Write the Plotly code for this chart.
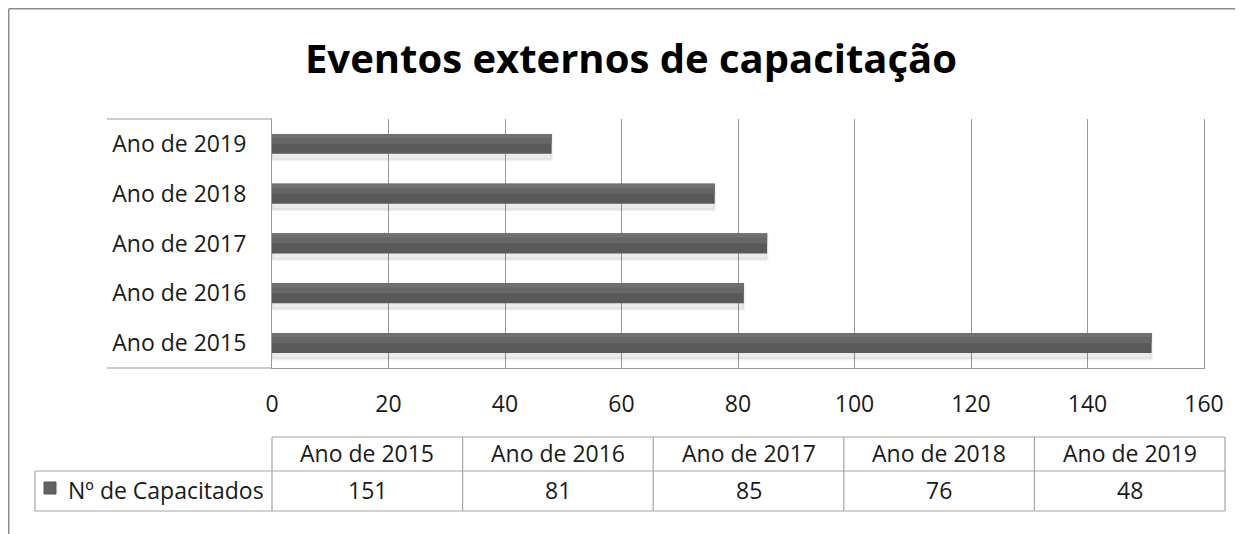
import plotly.graph_objects as go

categories = ["Ano de 2015", "Ano de 2016", "Ano de 2017", "Ano de 2018", "Ano de 2019"]
values = [151, 81, 85, 76, 48]
x_ticks = [0, 20, 40, 60, 80, 100, 120, 140, 160]
series_name = "Nº de Capacitados"
title_text = "Eventos externos de capacitação"

PAGE_W, PAGE_H = 1243, 534
OFF = 8  # default body margin of the html page
W, H = PAGE_W - OFF, PAGE_H - OFF
# page-pixel geometry (converted to figure pixels below)
L, R, T, B = 272 - OFF, 1204 - OFF, 119 - OFF, 368 - OFF
PW, PH = R - L, B - T
FONT = "Open Sans"


def px(x):
    return (x - OFF - L) / PW


def py(y):
    return (B - (y - OFF)) / PH


fig = go.Figure()
# soft shadow
fig.add_trace(go.Bar(
    y=categories, x=values, orientation="h", width=0.5, offset=-0.32,
    marker=dict(color="rgba(0,0,0,0.08)", line=dict(width=3, color="rgba(0,0,0,0.05)")),
    hoverinfo="skip", showlegend=False))
# main bar
fig.add_trace(go.Bar(
    y=categories, x=values, orientation="h", width=0.4, offset=-0.2,
    marker=dict(color="#595959", line=dict(width=0)),
    name=series_name, showlegend=False))
# upper highlight for gradient look
fig.add_trace(go.Bar(
    y=categories, x=values, orientation="h", width=0.2, offset=0.0,
    marker=dict(color="#676767", line=dict(width=0)),
    hoverinfo="skip", showlegend=False))
fig.add_trace(go.Bar(
    y=categories, x=values, orientation="h", width=0.08, offset=0.12,
    marker=dict(color="#717171", line=dict(width=0)),
    hoverinfo="skip", showlegend=False))

grid_col = "#999999"
tab_col = "#a6a6a6"
shapes = []


def line(x0, y0, x1, y1, color=tab_col, w=1.2):
    shapes.append(dict(type="line", xref="paper", yref="paper",
                       x0=px(x0), y0=py(y0), x1=px(x1), y1=py(y1),
                       line=dict(color=color, width=w), layer="above"))


# chart border (top and left)
line(OFF + 0.75, OFF + 0.75, PAGE_W + 5, OFF + 0.75, color="#8c8c8c", w=1.5)
line(OFF + 0.75, OFF + 0.75, OFF + 0.75, PAGE_H + 5, color="#8c8c8c", w=1.5)
# category label area edges
line(107, 119, 272, 119, color=grid_col)
line(107, 368, 272, 368, color=grid_col)

# data table
col_left, col_right = 272, 1225
ncol = len(categories)
cw = (col_right - col_left) / ncol
row_top, row_mid, row_bot = 437, 471, 511
label_left = 35
line(col_left, row_top, col_right, row_top)
line(label_left, row_mid, col_right, row_mid)
line(label_left, row_bot, col_right, row_bot)
line(label_left, row_mid, label_left, row_bot)
for i in range(ncol + 1):
    xx = col_left + i * cw
    line(xx, row_top, xx, row_bot)

# legend key
shapes.append(dict(type="rect", xref="paper", yref="paper",
                   x0=px(44), x1=px(56), y0=py(494), y1=py(482),
                   fillcolor="#626262", line=dict(color="#555555", width=1), layer="above"))

annotations = []
for i, (c, v) in enumerate(zip(categories, values)):
    cx = col_left + (i + 0.5) * cw
    annotations.append(dict(x=px(cx), y=py(453), xref="paper", yref="paper",
                            text=c, showarrow=False, xanchor="center", yanchor="middle",
                            font=dict(family=FONT, size=23, color="#1a1a1a")))
    annotations.append(dict(x=px(cx), y=py(490), xref="paper", yref="paper",
                            text=str(v), showarrow=False, xanchor="center", yanchor="middle",
                            font=dict(family=FONT, size=23, color="#1a1a1a")))
annotations.append(dict(x=px(66), y=py(490), xref="paper", yref="paper",
                        text=series_name, showarrow=False, xanchor="left", yanchor="middle",
                        font=dict(family=FONT, size=23, color="#1a1a1a")))

fig.update_layout(
    width=W, height=H,
    margin=dict(l=L, r=W - R, t=T, b=H - B),
    paper_bgcolor="white", plot_bgcolor="white",
    barmode="overlay",
    showlegend=False,
    title=dict(text="<b>" + title_text + "</b>", x=(631 - OFF) / W, xref="container", xanchor="center",
               y=1 - (59 - OFF) / H, yref="container", yanchor="middle",
               font=dict(family=FONT, size=40, color="#000000")),
    xaxis=dict(range=[x_ticks[0], x_ticks[-1]], tickvals=x_ticks, showgrid=True,
               gridcolor=grid_col, gridwidth=1, showline=True, linecolor=grid_col,
               linewidth=1.2, zeroline=False, ticks="", ticklabelstandoff=15,
               tickfont=dict(family=FONT, size=23, color="#1a1a1a"), fixedrange=True),
    yaxis=dict(type="category", categoryorder="array", categoryarray=categories,
               showgrid=False, showline=True, mirror=True, linecolor=grid_col, linewidth=1.2,
               zeroline=False, ticks="", ticklabelstandoff=20,
               tickfont=dict(family=FONT, size=23, color="#1a1a1a"), fixedrange=True),
    shapes=shapes, annotations=annotations,
)

fig.write_html("out.html")
